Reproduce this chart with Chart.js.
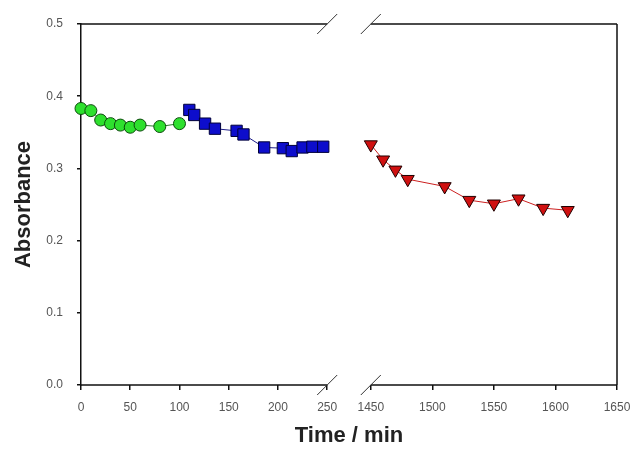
<!DOCTYPE html>
<html>
<head>
<meta charset="utf-8">
<script src="https://cdn.jsdelivr.net/npm/chart.js@4/dist/chart.umd.min.js"></script>
<style>
  html, body { margin: 0; padding: 0; background: #fff; }
  #wrap { width: 634px; height: 449px; }
</style>
</head>
<body>
<div id="wrap"><canvas id="absChart" width="634" height="449"></canvas></div>
<script>
// early run (circles), later run (squares), next-day run (triangles)
const greenTime = [0, 10, 20, 30, 40, 50, 60, 80, 100];
const greenAbs = [0.383, 0.380, 0.367, 0.362, 0.360, 0.357, 0.360, 0.358, 0.362];

const blueTime = [110, 115, 126, 136, 158, 165, 186, 205, 214, 225, 235, 246];
const blueAbs = [0.381, 0.374, 0.362, 0.355, 0.352, 0.347, 0.329, 0.328, 0.324, 0.329, 0.330, 0.330];

const redTime = [1450, 1460, 1470, 1480, 1510, 1530, 1550, 1570, 1590, 1610];
const redAbs = [0.333, 0.312, 0.298, 0.285, 0.275, 0.256, 0.251, 0.258, 0.245, 0.242];

const leftTicks = [0, 50, 100, 150, 200, 250];
const rightTicks = [1450, 1500, 1550, 1600, 1650];
const yTicks = [0.0, 0.1, 0.2, 0.3, 0.4, 0.5];

// broken time axis: 0-250 then 1450-1650 (right part slightly stretched)
const LEFT_END = 250;
const RIGHT_START = 1450;
const RIGHT_END = 1650;
const GAP = 44.3;
const RIGHT_STRETCH = 1.25;

const toAxis = t => t <= LEFT_END ? t : LEFT_END + GAP + (t - RIGHT_START) * RIGHT_STRETCH;
const pts = (xs, ys) => xs.map((t, i) => ({ x: toAxis(t), y: ys[i] }));

const allTicks = leftTicks.concat(rightTicks);
const labelFont = { family: 'Liberation Sans, Arial, sans-serif', size: 12 };
const titleFont = { family: 'Liberation Sans, Arial, sans-serif', size: 22, weight: 'bold' };

const brokenFrame = {
    id: 'brokenFrame',
    beforeDatasetsDraw(chart) {
        const { ctx, chartArea: a, scales: { x } } = chart;
        const cut1 = x.getPixelForValue(toAxis(LEFT_END));
        const cut2 = x.getPixelForValue(toAxis(RIGHT_START));
        ctx.save();
        ctx.strokeStyle = '#111';
        ctx.lineWidth = 1.5;
        ctx.beginPath();
        [a.top, a.bottom].forEach(y => {
            ctx.moveTo(a.left, y);
            ctx.lineTo(cut1, y);
            ctx.moveTo(cut2, y);
            ctx.lineTo(a.right, y);
        });
        ctx.moveTo(a.right, a.top);
        ctx.lineTo(a.right, a.bottom);
        ctx.stroke();

        // break marks
        ctx.lineWidth = 1;
        ctx.strokeStyle = '#333';
        ctx.beginPath();
        [a.top, a.bottom].forEach(y => {
            [cut1, cut2].forEach(cx => {
                ctx.moveTo(cx - 10, y + 10);
                ctx.lineTo(cx + 10, y - 10);
            });
        });
        ctx.stroke();
        ctx.restore();
    }
};

const ctx = document.getElementById('absChart').getContext('2d');
new Chart(ctx, {
    type: 'scatter',
    data: {
        datasets: [{
            data: pts(greenTime, greenAbs),
            showLine: true,
            borderColor: '#2a7a2a',
            borderWidth: 1,
            pointStyle: 'circle',
            pointRadius: 6,
            pointBackgroundColor: '#2ee02e',
            pointBorderColor: '#0b4a0b',
            pointBorderWidth: 1,
            clip: false
        }, {
            data: pts(blueTime, blueAbs),
            showLine: true,
            borderColor: '#1c1c88',
            borderWidth: 1,
            pointStyle: 'rect',
            pointRadius: 8,
            pointBackgroundColor: '#0d0dcc',
            pointBorderColor: '#00003a',
            pointBorderWidth: 1,
            clip: false
        }, {
            data: pts(redTime, redAbs),
            showLine: true,
            borderColor: '#cc2020',
            borderWidth: 1,
            pointStyle: 'triangle',
            pointRotation: 180,
            pointRadius: 7.5,
            pointBackgroundColor: '#d01010',
            pointBorderColor: '#200000',
            pointBorderWidth: 1,
            clip: false
        }]
    },
    options: {
        responsive: false,
        animation: false,
        events: [],
        layout: { padding: { top: 24, right: 17, left: 0, bottom: 0 } },
        plugins: {
            legend: { display: false },
            tooltip: { enabled: false }
        },
        scales: {
            x: {
                type: 'linear',
                min: 0,
                max: toAxis(RIGHT_END),
                afterBuildTicks: axis => {
                    axis.ticks = allTicks.map(t => ({ value: toAxis(t) }));
                },
                afterFit: axis => {
                    axis.height = 64;
                    axis.paddingLeft = 0;
                    axis.paddingRight = 0;
                },
                ticks: {
                    autoSkip: false,
                    maxRotation: 0,
                    padding: 10,
                    color: '#555',
                    font: labelFont,
                    callback: (value, index) => allTicks[index]
                },
                grid: {
                    drawOnChartArea: false,
                    tickLength: 5,
                    color: '#111',
                    lineWidth: 1.5
                },
                border: { display: false },
                title: {
                    display: true,
                    text: 'Time / min',
                    color: '#222',
                    font: titleFont,
                    padding: { top: 0, bottom: 0 }
                }
            },
            y: {
                min: 0,
                max: 0.5,
                afterBuildTicks: axis => {
                    axis.ticks = yTicks.map(v => ({ value: v }));
                },
                afterFit: axis => { axis.width = 81; },
                ticks: {
                    padding: 14,
                    color: '#555',
                    font: labelFont,
                    callback: v => v.toFixed(1)
                },
                grid: {
                    drawOnChartArea: false,
                    tickLength: 4,
                    color: '#111',
                    lineWidth: 1.5
                },
                border: { display: true, color: '#111', width: 1.5 },
                title: {
                    display: true,
                    text: 'Absorbance',
                    color: '#222',
                    font: titleFont,
                    padding: { top: 11, bottom: 0 }
                }
            }
        }
    },
    plugins: [brokenFrame]
});
</script>
</body>
</html>
